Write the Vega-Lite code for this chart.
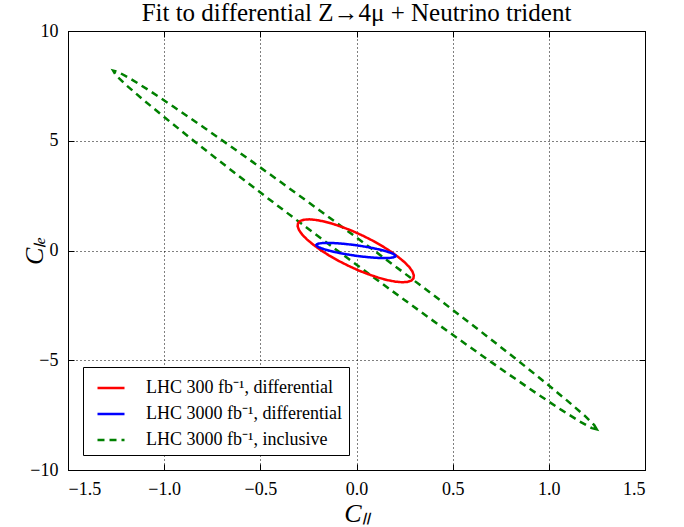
{
  "$schema": "https://vega.github.io/schema/vega-lite/v6.json",
  "width": 577,
  "height": 439,
  "autosize": {"type": "none"},
  "padding": {"left": 68, "top": 31, "right": 39, "bottom": 57},
  "background": "white",
  "title": {"text": "Fit to differential Z→4μ + Neutrino trident", "font": "Liberation Serif", "fontSize": 25, "fontWeight": "normal", "color": "black", "offset": -4, "anchor": "middle"},
  "config": {
    "view": {"stroke": "black", "strokeWidth": 1},
    "axis": {"labelFont": "Liberation Serif", "labelFontSize": 18, "labelColor": "black", "tickColor": "black", "domainColor": "black", "titleFont": "Liberation Serif", "titleFontSize": 26, "titleFontStyle": "italic", "titleFontWeight": "normal", "titleColor": "black", "tickSize": -6, "labelPadding": 16, "gridColor": "black", "gridDash": [1, 3], "gridOpacity": 1, "gridWidth": 1}
  },
  "data": {"values": [
    {"s":"LHC 3000 fb⁻¹, inclusive","i":0,"x":1.249,"y":-8.146},
    {"s":"LHC 3000 fb⁻¹, inclusive","i":1,"x":1.236,"y":-7.952},
    {"s":"LHC 3000 fb⁻¹, inclusive","i":2,"x":1.185,"y":-7.516},
    {"s":"LHC 3000 fb⁻¹, inclusive","i":3,"x":1.097,"y":-6.851},
    {"s":"LHC 3000 fb⁻¹, inclusive","i":4,"x":0.976,"y":-5.977},
    {"s":"LHC 3000 fb⁻¹, inclusive","i":5,"x":0.826,"y":-4.921},
    {"s":"LHC 3000 fb⁻¹, inclusive","i":6,"x":0.650,"y":-3.714},
    {"s":"LHC 3000 fb⁻¹, inclusive","i":7,"x":0.454,"y":-2.394},
    {"s":"LHC 3000 fb⁻¹, inclusive","i":8,"x":0.244,"y":-1.000},
    {"s":"LHC 3000 fb⁻¹, inclusive","i":9,"x":0.026,"y":0.424},
    {"s":"LHC 3000 fb⁻¹, inclusive","i":10,"x":-0.193,"y":1.836},
    {"s":"LHC 3000 fb⁻¹, inclusive","i":11,"x":-0.406,"y":3.194},
    {"s":"LHC 3000 fb⁻¹, inclusive","i":12,"x":-0.607,"y":4.455},
    {"s":"LHC 3000 fb⁻¹, inclusive","i":13,"x":-0.790,"y":5.581},
    {"s":"LHC 3000 fb⁻¹, inclusive","i":14,"x":-0.949,"y":6.538},
    {"s":"LHC 3000 fb⁻¹, inclusive","i":15,"x":-1.079,"y":7.298},
    {"s":"LHC 3000 fb⁻¹, inclusive","i":16,"x":-1.177,"y":7.837},
    {"s":"LHC 3000 fb⁻¹, inclusive","i":17,"x":-1.240,"y":8.137},
    {"s":"LHC 3000 fb⁻¹, inclusive","i":18,"x":-1.265,"y":8.192},
    {"s":"LHC 3000 fb⁻¹, inclusive","i":19,"x":-1.252,"y":7.998},
    {"s":"LHC 3000 fb⁻¹, inclusive","i":20,"x":-1.201,"y":7.562},
    {"s":"LHC 3000 fb⁻¹, inclusive","i":21,"x":-1.113,"y":6.897},
    {"s":"LHC 3000 fb⁻¹, inclusive","i":22,"x":-0.992,"y":6.023},
    {"s":"LHC 3000 fb⁻¹, inclusive","i":23,"x":-0.842,"y":4.967},
    {"s":"LHC 3000 fb⁻¹, inclusive","i":24,"x":-0.666,"y":3.760},
    {"s":"LHC 3000 fb⁻¹, inclusive","i":25,"x":-0.470,"y":2.440},
    {"s":"LHC 3000 fb⁻¹, inclusive","i":26,"x":-0.260,"y":1.046},
    {"s":"LHC 3000 fb⁻¹, inclusive","i":27,"x":-0.042,"y":-0.378},
    {"s":"LHC 3000 fb⁻¹, inclusive","i":28,"x":0.177,"y":-1.790},
    {"s":"LHC 3000 fb⁻¹, inclusive","i":29,"x":0.390,"y":-3.148},
    {"s":"LHC 3000 fb⁻¹, inclusive","i":30,"x":0.591,"y":-4.409},
    {"s":"LHC 3000 fb⁻¹, inclusive","i":31,"x":0.774,"y":-5.535},
    {"s":"LHC 3000 fb⁻¹, inclusive","i":32,"x":0.933,"y":-6.492},
    {"s":"LHC 3000 fb⁻¹, inclusive","i":33,"x":1.063,"y":-7.252},
    {"s":"LHC 3000 fb⁻¹, inclusive","i":34,"x":1.161,"y":-7.791},
    {"s":"LHC 3000 fb⁻¹, inclusive","i":35,"x":1.224,"y":-8.091},

    {"s":"LHC 300 fb⁻¹, differential","i":0,"x":0.296,"y":-1.271},
    {"s":"LHC 300 fb⁻¹, differential","i":1,"x":0.285,"y":-1.371},
    {"s":"LHC 300 fb⁻¹, differential","i":2,"x":0.265,"y":-1.431},
    {"s":"LHC 300 fb⁻¹, differential","i":3,"x":0.237,"y":-1.447},
    {"s":"LHC 300 fb⁻¹, differential","i":4,"x":0.202,"y":-1.419},
    {"s":"LHC 300 fb⁻¹, differential","i":5,"x":0.160,"y":-1.349},
    {"s":"LHC 300 fb⁻¹, differential","i":6,"x":0.114,"y":-1.238},
    {"s":"LHC 300 fb⁻¹, differential","i":7,"x":0.064,"y":-1.090},
    {"s":"LHC 300 fb⁻¹, differential","i":8,"x":0.011,"y":-0.910},
    {"s":"LHC 300 fb⁻¹, differential","i":9,"x":-0.041,"y":-0.702},
    {"s":"LHC 300 fb⁻¹, differential","i":10,"x":-0.093,"y":-0.473},
    {"s":"LHC 300 fb⁻¹, differential","i":11,"x":-0.142,"y":-0.231},
    {"s":"LHC 300 fb⁻¹, differential","i":12,"x":-0.186,"y":0.019},
    {"s":"LHC 300 fb⁻¹, differential","i":13,"x":-0.225,"y":0.267},
    {"s":"LHC 300 fb⁻¹, differential","i":14,"x":-0.258,"y":0.507},
    {"s":"LHC 300 fb⁻¹, differential","i":15,"x":-0.283,"y":0.731},
    {"s":"LHC 300 fb⁻¹, differential","i":16,"x":-0.299,"y":0.932},
    {"s":"LHC 300 fb⁻¹, differential","i":17,"x":-0.306,"y":1.105},
    {"s":"LHC 300 fb⁻¹, differential","i":18,"x":-0.304,"y":1.243},
    {"s":"LHC 300 fb⁻¹, differential","i":19,"x":-0.293,"y":1.343},
    {"s":"LHC 300 fb⁻¹, differential","i":20,"x":-0.273,"y":1.403},
    {"s":"LHC 300 fb⁻¹, differential","i":21,"x":-0.245,"y":1.419},
    {"s":"LHC 300 fb⁻¹, differential","i":22,"x":-0.210,"y":1.391},
    {"s":"LHC 300 fb⁻¹, differential","i":23,"x":-0.168,"y":1.321},
    {"s":"LHC 300 fb⁻¹, differential","i":24,"x":-0.122,"y":1.210},
    {"s":"LHC 300 fb⁻¹, differential","i":25,"x":-0.072,"y":1.062},
    {"s":"LHC 300 fb⁻¹, differential","i":26,"x":-0.019,"y":0.882},
    {"s":"LHC 300 fb⁻¹, differential","i":27,"x":0.033,"y":0.674},
    {"s":"LHC 300 fb⁻¹, differential","i":28,"x":0.085,"y":0.445},
    {"s":"LHC 300 fb⁻¹, differential","i":29,"x":0.134,"y":0.203},
    {"s":"LHC 300 fb⁻¹, differential","i":30,"x":0.178,"y":-0.047},
    {"s":"LHC 300 fb⁻¹, differential","i":31,"x":0.217,"y":-0.295},
    {"s":"LHC 300 fb⁻¹, differential","i":32,"x":0.250,"y":-0.535},
    {"s":"LHC 300 fb⁻¹, differential","i":33,"x":0.275,"y":-0.759},
    {"s":"LHC 300 fb⁻¹, differential","i":34,"x":0.291,"y":-0.960},
    {"s":"LHC 300 fb⁻¹, differential","i":35,"x":0.298,"y":-1.133},

    {"s":"LHC 3000 fb⁻¹, differential","i":0,"x":0.203,"y":-0.254},
    {"s":"LHC 3000 fb⁻¹, differential","i":1,"x":0.199,"y":-0.291},
    {"s":"LHC 3000 fb⁻¹, differential","i":2,"x":0.189,"y":-0.319},
    {"s":"LHC 3000 fb⁻¹, differential","i":3,"x":0.173,"y":-0.337},
    {"s":"LHC 3000 fb⁻¹, differential","i":4,"x":0.152,"y":-0.345},
    {"s":"LHC 3000 fb⁻¹, differential","i":5,"x":0.127,"y":-0.343},
    {"s":"LHC 3000 fb⁻¹, differential","i":6,"x":0.097,"y":-0.330},
    {"s":"LHC 3000 fb⁻¹, differential","i":7,"x":0.064,"y":-0.307},
    {"s":"LHC 3000 fb⁻¹, differential","i":8,"x":0.029,"y":-0.275},
    {"s":"LHC 3000 fb⁻¹, differential","i":9,"x":-0.007,"y":-0.235},
    {"s":"LHC 3000 fb⁻¹, differential","i":10,"x":-0.042,"y":-0.187},
    {"s":"LHC 3000 fb⁻¹, differential","i":11,"x":-0.077,"y":-0.134},
    {"s":"LHC 3000 fb⁻¹, differential","i":12,"x":-0.109,"y":-0.076},
    {"s":"LHC 3000 fb⁻¹, differential","i":13,"x":-0.138,"y":-0.017},
    {"s":"LHC 3000 fb⁻¹, differential","i":14,"x":-0.163,"y":0.044},
    {"s":"LHC 3000 fb⁻¹, differential","i":15,"x":-0.183,"y":0.103},
    {"s":"LHC 3000 fb⁻¹, differential","i":16,"x":-0.198,"y":0.158},
    {"s":"LHC 3000 fb⁻¹, differential","i":17,"x":-0.206,"y":0.209},
    {"s":"LHC 3000 fb⁻¹, differential","i":18,"x":-0.209,"y":0.254},
    {"s":"LHC 3000 fb⁻¹, differential","i":19,"x":-0.205,"y":0.291},
    {"s":"LHC 3000 fb⁻¹, differential","i":20,"x":-0.195,"y":0.319},
    {"s":"LHC 3000 fb⁻¹, differential","i":21,"x":-0.179,"y":0.337},
    {"s":"LHC 3000 fb⁻¹, differential","i":22,"x":-0.158,"y":0.345},
    {"s":"LHC 3000 fb⁻¹, differential","i":23,"x":-0.133,"y":0.343},
    {"s":"LHC 3000 fb⁻¹, differential","i":24,"x":-0.103,"y":0.330},
    {"s":"LHC 3000 fb⁻¹, differential","i":25,"x":-0.070,"y":0.307},
    {"s":"LHC 3000 fb⁻¹, differential","i":26,"x":-0.035,"y":0.275},
    {"s":"LHC 3000 fb⁻¹, differential","i":27,"x":0.001,"y":0.235},
    {"s":"LHC 3000 fb⁻¹, differential","i":28,"x":0.036,"y":0.187},
    {"s":"LHC 3000 fb⁻¹, differential","i":29,"x":0.071,"y":0.134},
    {"s":"LHC 3000 fb⁻¹, differential","i":30,"x":0.103,"y":0.076},
    {"s":"LHC 3000 fb⁻¹, differential","i":31,"x":0.132,"y":0.017},
    {"s":"LHC 3000 fb⁻¹, differential","i":32,"x":0.157,"y":-0.044},
    {"s":"LHC 3000 fb⁻¹, differential","i":33,"x":0.177,"y":-0.103},
    {"s":"LHC 3000 fb⁻¹, differential","i":34,"x":0.192,"y":-0.158},
    {"s":"LHC 3000 fb⁻¹, differential","i":35,"x":0.200,"y":-0.209}
  ]},
  "layer": [
    {
      "mark": {"type": "line", "interpolate": "linear-closed", "strokeWidth": 2.5},
      "encoding": {
        "x": {"field": "x", "type": "quantitative", "scale": {"domain": [-1.5, 1.5], "nice": false}, "axis": {"title": "Cₗₗ", "values": [-1.5, -1, -0.5, 0, 0.5, 1, 1.5], "format": ".1f", "titlePadding": 2}},
        "y": {"field": "y", "type": "quantitative", "scale": {"domain": [-10, 10], "nice": false}, "axis": {"title": "Cₗₑ", "values": [-10, -5, 0, 5, 10], "format": "d", "titlePadding": -18}},
        "color": {"field": "s", "type": "nominal", "scale": {"domain": ["LHC 300 fb⁻¹, differential", "LHC 3000 fb⁻¹, differential", "LHC 3000 fb⁻¹, inclusive"], "range": ["#ff0000", "#0000ff", "#008000"]},
          "legend": {"title": null, "orient": "none", "legendX": 15, "legendY": 336, "strokeColor": "black", "padding": 6, "symbolType": "stroke", "symbolSize": 729, "symbolStrokeWidth": 2.5, "symbolOffset": 7, "labelFont": "Liberation Serif", "labelFontSize": 18, "labelColor": "black", "labelOffset": 20, "rowPadding": 2, "fillColor": "white", "cornerRadius": 0, "labelLimit": 300}},
        "strokeDash": {"field": "s", "type": "nominal", "scale": {"domain": ["LHC 300 fb⁻¹, differential", "LHC 3000 fb⁻¹, differential", "LHC 3000 fb⁻¹, inclusive"], "range": [[1, 0], [1, 0], [7, 5]]}, "legend": null},
        "order": {"field": "i", "type": "quantitative"}
      }
    },
    {
      "mark": {"type": "line", "strokeOpacity": 0},
      "encoding": {
        "x": {"field": "x", "type": "quantitative", "axis": {"orient": "top", "labels": false, "grid": false, "title": null, "values": [-1.5, -1, -0.5, 0, 0.5, 1, 1.5]}},
        "y": {"field": "y", "type": "quantitative", "axis": {"orient": "right", "labels": false, "grid": false, "title": null, "values": [-10, -5, 0, 5, 10]}},
        "detail": {"field": "s"},
        "order": {"field": "i", "type": "quantitative"}
      }
    }
  ],
  "resolve": {"axis": {"x": "independent", "y": "independent"}}
}
